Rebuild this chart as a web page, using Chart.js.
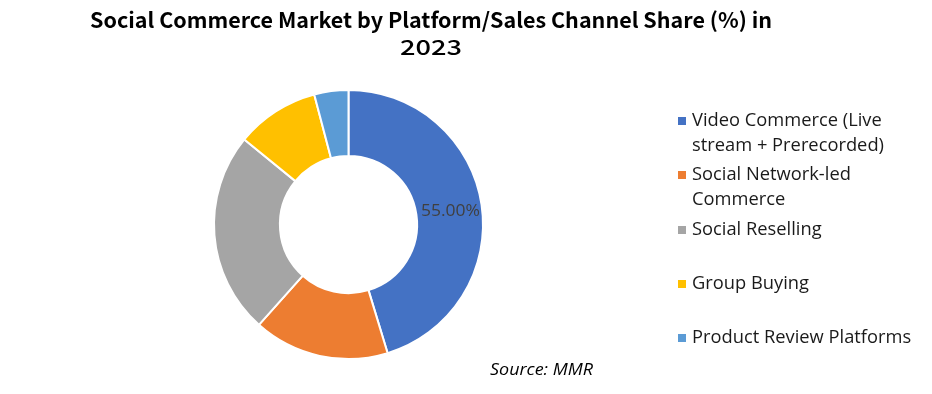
<!DOCTYPE html>
<html>
<head>
<meta charset="utf-8">
<script src="https://cdn.jsdelivr.net/npm/chart.js@4.4.0/dist/chart.umd.min.js"></script>
<style>
  html, body { margin: 0; padding: 0; background: #fff; }
  #wrap { width: 932px; height: 394px; position: relative; }
</style>
</head>
<body>
<div id="wrap"><canvas id="pieChart" width="932" height="394"></canvas></div>
<script>
// Chart data
var categories = ['Video Commerce (Live stream + Prerecorded)', 'Social Network-led Commerce', 'Social Reselling', 'Group Buying', 'Product Review Platforms'];
var legendLines = [['Video Commerce (Live', 'stream + Prerecorded)'], ['Social Network-led', 'Commerce'], ['Social Reselling'], ['Group Buying'], ['Product Review Platforms']];
var shares = [45.3, 16.3, 24.3, 10.0, 4.1];
var shareLabels = ['55.00%', '', '', '', ''];
var colors = ['#4472C4', '#ED7D31', '#A5A5A5', '#FFC000', '#5B9BD5'];
var titleLines = ['Social Commerce Market by Platform/Sales Channel Share (%) in', '2023'];
var sourceText = 'Source: MMR';

// Draw text from left edge x, squeezed/stretched to the given width
function fitText(ctx, text, x, y, width) {
    var w = ctx.measureText(text).width;
    ctx.save();
    ctx.translate(x, y);
    ctx.scale(width / w, 1);
    ctx.fillText(text, 0, 0);
    ctx.restore();
}

// Draws title, legend, source and the data label
var decorPlugin = {
    id: 'decor',
    afterDraw: function(chart) {
        var ctx = chart.ctx;
        ctx.save();
        ctx.textAlign = 'left';
        ctx.textBaseline = 'middle';

        // Title
        ctx.fillStyle = '#000';
        ctx.font = 'bold 21px "Noto Sans CJK KR", "Noto Sans", sans-serif';
        fitText(ctx, titleLines[0], 90, 20, 682);
        ctx.font = '500 21px "Noto Sans CJK KR", "Noto Sans", sans-serif';
        fitText(ctx, titleLines[1], 400, 47, 62);

        // Data labels
        var meta = chart.getDatasetMeta(0);
        ctx.font = '16px "Open Sans", sans-serif';
        ctx.fillStyle = '#404040';
        meta.data.forEach(function(arc, i) {
            if (!shareLabels[i]) return;
            var p = arc.getProps(['x', 'y', 'innerRadius', 'outerRadius'], true);
            var mid = (p.innerRadius + p.outerRadius) / 2;
            fitText(ctx, shareLabels[i], p.x + mid - 29, p.y - 13, 59);
        });

        // Legend
        var legendY = [121, 146, 175, 200, 230, 284, 338];
        var k = 0;
        ctx.font = '18px "Open Sans", sans-serif';
        legendLines.forEach(function(lines, i) {
            ctx.fillStyle = colors[i];
            ctx.fillRect(678, legendY[k] - 4, 8, 8);
            ctx.fillStyle = '#1a1a1a';
            lines.forEach(function(t) {
                var w = ctx.measureText(t).width * 1.017;
                fitText(ctx, t, 692, legendY[k], w);
                k++;
            });
        });

        // Source
        ctx.font = 'italic 16px "Open Sans", sans-serif';
        ctx.fillStyle = '#000';
        fitText(ctx, sourceText, 490, 370, 103);

        ctx.restore();
    }
};

var ctx = document.getElementById('pieChart').getContext('2d');
new Chart(ctx, {
    type: 'doughnut',
    data: {
        labels: categories,
        datasets: [{
            data: shares,
            backgroundColor: colors,
            borderColor: '#fff',
            borderWidth: 2
        }]
    },
    options: {
        responsive: false,
        animation: false,
        cutout: '51%',
        layout: {
            padding: { left: 213, right: 448, top: 88, bottom: 33 }
        },
        plugins: {
            legend: { display: false },
            tooltip: { enabled: false }
        }
    },
    plugins: [decorPlugin]
});
</script>
</body>
</html>
